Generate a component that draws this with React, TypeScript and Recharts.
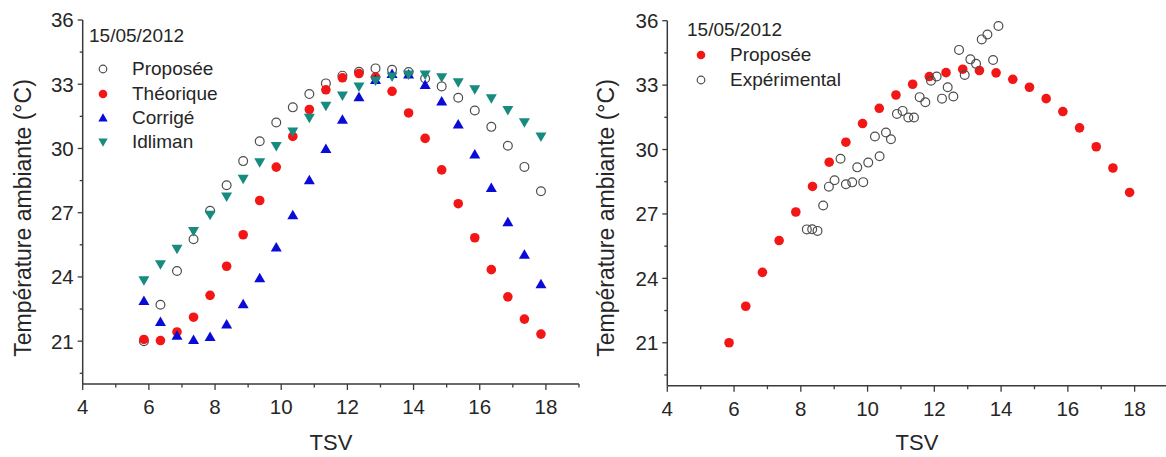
import React from 'react';
import { ScatterChart, Scatter, XAxis, YAxis, Legend } from 'recharts';

// TSV hours of the model points (every half hour)
const TSV = [
  5.85, 6.35, 6.85, 7.35, 7.85, 8.35, 8.85, 9.35, 9.85, 10.35, 10.85, 11.35, 11.85,
  12.35, 12.85, 13.35, 13.85, 14.35, 14.85, 15.35, 15.85, 16.35, 16.85, 17.35, 17.85,
];

const PROPOSEE = [
  21.0, 22.7, 24.28, 25.76, 27.09, 28.28, 29.41, 30.34, 31.21, 31.92, 32.54, 33.04, 33.4,
  33.58, 33.74, 33.68, 33.57, 33.27, 32.9, 32.37, 31.77, 31.01, 30.13, 29.14, 28.0,
];
const THEORIQUE = [
  21.08, 21.03, 21.43, 22.12, 23.14, 24.5, 25.97, 27.57, 29.13, 30.56, 31.82, 32.74, 33.3,
  33.5, 33.33, 32.67, 31.66, 30.47, 29.0, 27.42, 25.83, 24.34, 23.07, 22.03, 21.33,
];
const CORRIGE = [
  22.88, 21.9, 21.25, 21.05, 21.2, 21.78, 22.72, 23.94, 25.37, 26.88, 28.51, 29.97, 31.34,
  32.39, 33.2, 33.48, 33.45, 32.97, 32.19, 31.12, 29.72, 28.15, 26.56, 25.04, 23.66,
];
const IDLIMAN = [
  23.84, 24.59, 25.32, 26.14, 26.91, 27.76, 28.59, 29.36, 30.11, 30.79, 31.43, 31.99, 32.47,
  32.89, 33.17, 33.36, 33.45, 33.45, 33.33, 33.09, 32.77, 32.35, 31.8, 31.23, 30.56,
];

// measured points (right panel)
const EXP_TSV = [
  8.18, 8.34, 8.5, 8.67, 8.84, 9.01, 9.19, 9.35, 9.54, 9.69, 9.87, 10.02, 10.22, 10.36,
  10.55, 10.7, 10.88, 11.05, 11.22, 11.39, 11.56, 11.73, 11.9, 12.07, 12.23, 12.4, 12.57,
  12.74, 12.91, 13.08, 13.25, 13.42, 13.59, 13.76, 13.92,
];
const EXP_T = [
  26.28, 26.29, 26.21, 27.39, 28.27, 28.57, 29.57, 28.38, 28.47, 29.17, 28.48, 29.39, 30.61,
  29.69, 30.79, 30.48, 31.66, 31.8, 31.49, 31.49, 32.44, 32.2, 33.2, 33.4, 32.37, 32.9,
  32.47, 34.64, 33.47, 34.2, 33.99, 35.13, 35.36, 34.17, 35.75,
];

const X_TICKS = [4, 5, 6, 7, 8, 9, 10, 11, 12, 13, 14, 15, 16, 17, 18, 19];
const X_LABELS = [4, 6, 8, 10, 12, 14, 16, 18];
const Y_TICKS = [19.5, 21, 22.5, 24, 25.5, 27, 28.5, 30, 31.5, 33, 34.5, 36];
const Y_LABELS = [21, 24, 27, 30, 33, 36];

const DATE = '15/05/2012';
const Y_TITLE = 'Température ambiante (°C)';

const FONT = '"Liberation Sans", Arial, sans-serif';
const INK = '#262626';
const AXIS = '#3a3a3a';
const RED = '#f31616';
const BLUE = '#0b0bd8';
const TEAL = '#178b7f';
const GREY = '#4d4d4d';

const toPoints = (xs: number[], ys: number[]) => ys.map((y, i) => ({ x: xs[i], y }));

const OpenCircle = ({ cx, cy, r = 4.4 }: any) => (
  <circle cx={cx} cy={cy} r={r} fill="none" stroke={GREY} strokeWidth={1.2} />
);
const RedDot = ({ cx, cy, r = 4.8 }: any) => <circle cx={cx} cy={cy} r={r} fill={RED} />;
const TriUp = ({ cx, cy, s = 1 }: any) => (
  <polygon
    points={`${cx},${cy - 5.5 * s} ${cx - 5.5 * s},${cy + 4 * s} ${cx + 5.5 * s},${cy + 4 * s}`}
    fill={BLUE}
  />
);
const TriDown = ({ cx, cy, s = 1 }: any) => (
  <polygon
    points={`${cx - 5.5 * s},${cy - 4 * s} ${cx + 5.5 * s},${cy - 4 * s} ${cx},${cy + 5.5 * s}`}
    fill={TEAL}
  />
);

const XTick = ({ x, y, payload }: any) => {
  const v = payload.value;
  const major = X_LABELS.includes(v);
  return (
    <g>
      <line x1={x} x2={x} y1={y} y2={y + (major ? 6 : 3.5)} stroke={AXIS} strokeWidth={1.3} />
      {major && (
        <text x={x} y={y + 30} textAnchor="middle" fontSize={20.5} fill={INK} fontFamily={FONT}>
          {v}
        </text>
      )}
    </g>
  );
};

const YTick = ({ x, y, payload }: any) => {
  const v = payload.value;
  const major = Y_LABELS.includes(v);
  return (
    <g>
      <line x1={x} x2={x - (major ? 5 : 3)} y1={y} y2={y} stroke={AXIS} strokeWidth={1.3} />
      {major && (
        <text x={x - 9} y={y} dy="0.36em" textAnchor="end" fontSize={20.5} fill={INK} fontFamily={FONT}>
          {v}
        </text>
      )}
    </g>
  );
};

type Entry = { name: string; icon: React.ReactNode };

const LegendBox = ({ entries, gap }: { entries: Entry[]; gap: number }) => (
  <div style={{ fontFamily: FONT, color: INK, fontSize: 19, lineHeight: '24.3px' }}>
    <div style={{ marginBottom: gap }}>{DATE}</div>
    {entries.map((e) => (
      <div key={e.name} style={{ display: 'flex', alignItems: 'center' }}>
        <svg width={28} height={24} style={{ marginRight: 15 }}>
          {e.icon}
        </svg>
        <span>{e.name}</span>
      </div>
    ))}
  </div>
);

const Panel = ({
  width,
  margin,
  xAxisHeight,
  titleX,
  legendPos,
  entries,
  children,
}: any) => (
  <ScatterChart width={width} height={457} margin={margin}>
    <XAxis
      type="number"
      dataKey="x"
      domain={[4, 19]}
      ticks={X_TICKS}
      interval={0}
      height={xAxisHeight}
      tickSize={0}
      tickMargin={0}
      tickLine={false}
      tick={<XTick />}
      axisLine={{ stroke: AXIS, strokeWidth: 1.5 }}
      label={{
        content: () => (
          <text
            x={titleX}
            y={450}
            textAnchor="middle"
            fontSize={22}
            fill={INK}
            fontFamily={FONT}
          >
            TSV
          </text>
        ),
      }}
    />
    <YAxis
      type="number"
      dataKey="y"
      domain={[19, 36]}
      ticks={Y_TICKS}
      interval={0}
      width={margin.yw}
      tickSize={0}
      tickMargin={0}
      tickLine={false}
      tick={<YTick />}
      axisLine={{ stroke: AXIS, strokeWidth: 1.5 }}
      label={{
        content: () => (
          <text
            transform={`translate(${margin.titleY}, 218) rotate(-90)`}
            textAnchor="middle"
            dominantBaseline="central"
            fontSize={23}
            fill={INK}
            fontFamily={FONT}
          >
            {Y_TITLE}
          </text>
        ),
      }}
    />
    <Legend
      layout="vertical"
      align="center"
      verticalAlign="middle"
      wrapperStyle={{ left: legendPos.left, top: legendPos.top, width: 'auto' }}
      content={() => <LegendBox entries={entries} gap={legendPos.gap} />}
    />
    {children}
  </ScatterChart>
);

const App = () => {
  const leftEntries: Entry[] = [
    { name: 'Proposée', icon: <OpenCircle cx={14} cy={12} r={3.8} /> },
    { name: 'Théorique', icon: <RedDot cx={14} cy={12} r={4.3} /> },
    { name: 'Corrigé', icon: <TriUp cx={14} cy={12} s={0.85} /> },
    { name: 'Idliman', icon: <TriDown cx={14} cy={12} s={0.85} /> },
  ];
  const rightEntries: Entry[] = [
    { name: 'Proposée', icon: <RedDot cx={14} cy={12} r={4.3} /> },
    { name: 'Expérimental', icon: <OpenCircle cx={14} cy={12} r={3.8} /> },
  ];

  return (
    <div
      style={{
        position: 'absolute',
        left: 0,
        top: 0,
        width: 1166,
        height: 457,
        overflow: 'hidden',
        background: '#fff',
      }}
    >
      <div style={{ position: 'absolute', left: 0, top: 0 }}>
        <Panel
          width={583}
          margin={{ top: 20, right: 4, left: 0, bottom: 0, yw: 82.7, titleY: 23 }}
          xAxisHeight={73}
          titleX={331}
          legendPos={{ left: 89, top: 24, gap: 9 }}
          entries={leftEntries}
        >
          <Scatter data={toPoints(TSV, PROPOSEE)} shape={<OpenCircle />} isAnimationActive={false} />
          <Scatter data={toPoints(TSV, THEORIQUE)} shape={<RedDot />} isAnimationActive={false} />
          <Scatter data={toPoints(TSV, CORRIGE)} shape={<TriUp />} isAnimationActive={false} />
          <Scatter data={toPoints(TSV, IDLIMAN)} shape={<TriDown />} isAnimationActive={false} />
        </Panel>
      </div>
      <div style={{ position: 'absolute', left: 583, top: 0 }}>
        <Panel
          width={590}
          margin={{ top: 20.7, right: 5, left: 0, bottom: 0, yw: 84.3, titleY: 23 }}
          xAxisHeight={71.3}
          titleX={334}
          legendPos={{ left: 104, top: 18, gap: 1 }}
          entries={rightEntries}
        >
          <Scatter data={toPoints(TSV, PROPOSEE)} shape={<RedDot />} isAnimationActive={false} />
          <Scatter data={toPoints(EXP_TSV, EXP_T)} shape={<OpenCircle />} isAnimationActive={false} />
        </Panel>
      </div>
    </div>
  );
};

export default App;
